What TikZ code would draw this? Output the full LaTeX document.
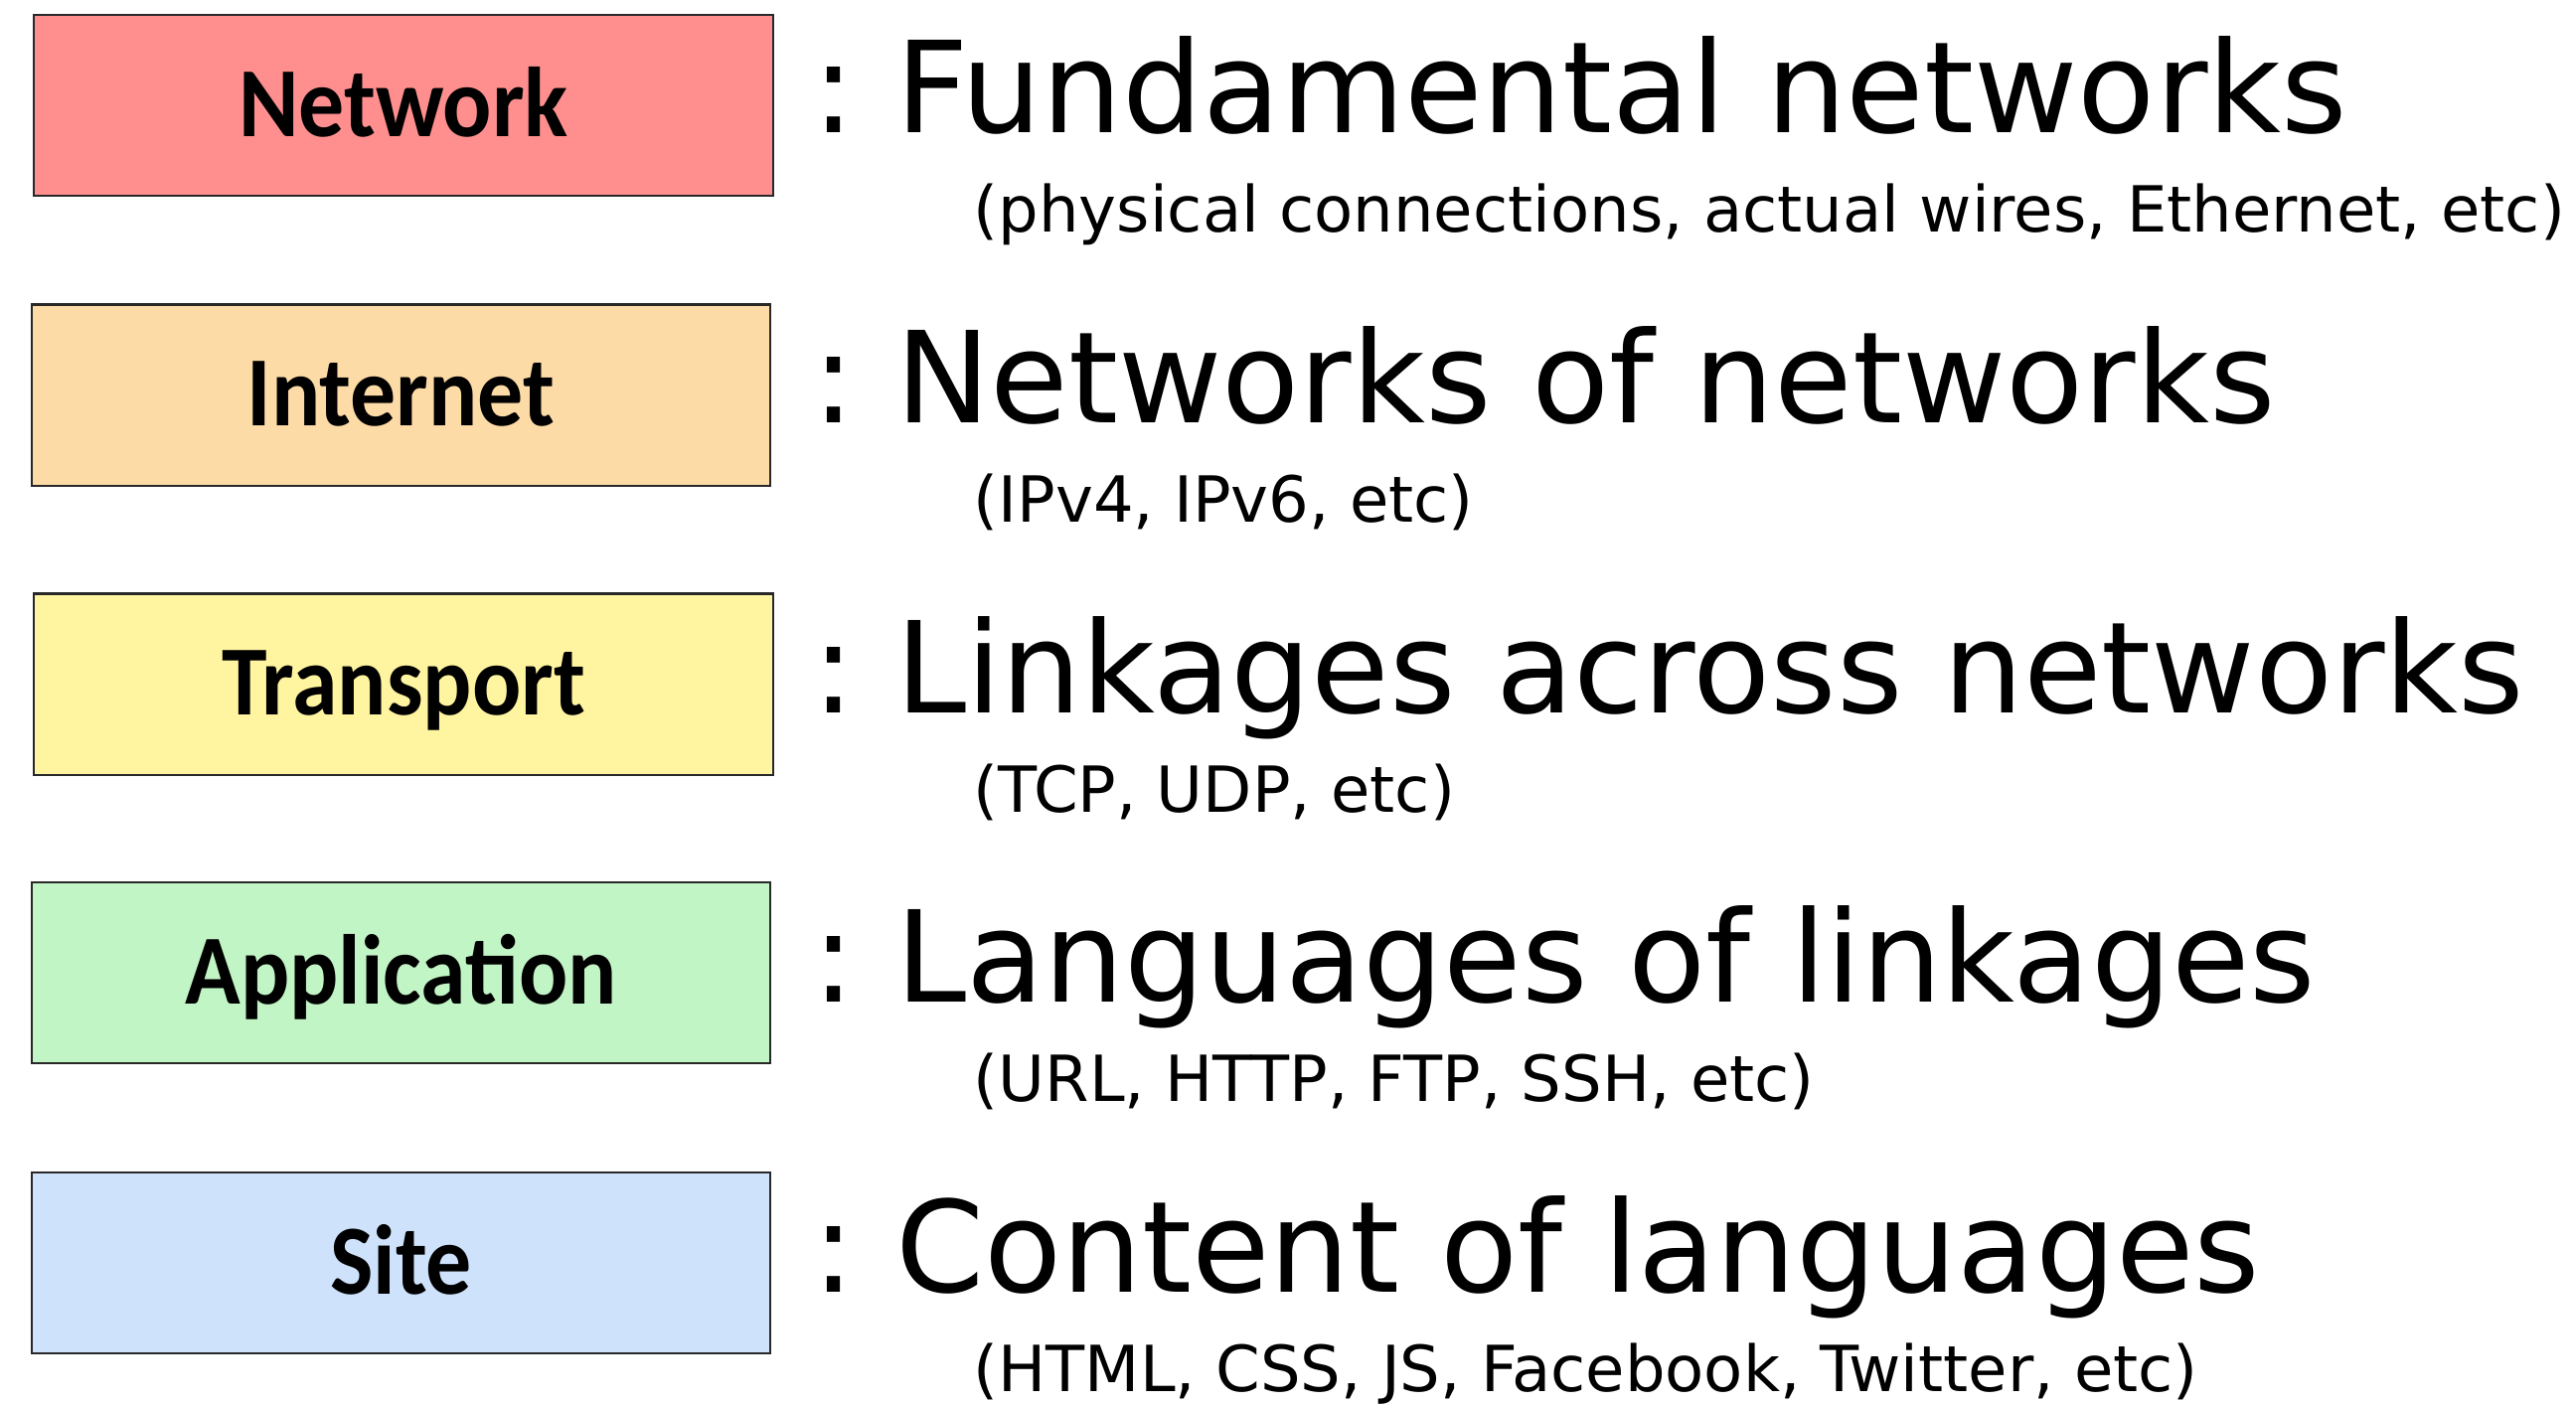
\documentclass[tikz,border=0pt]{standalone}
\usepackage{fontspec}
\setmainfont{DejaVu Sans}
\newfontfamily\boxfont[FakeStretch=0.92]{Carlito}
\frenchspacing
\definecolor{netcol}{RGB}{255,143,143}
\definecolor{inetcol}{RGB}{253,219,166}
\definecolor{transcol}{RGB}{255,245,160}
\definecolor{appcol}{RGB}{194,245,197}
\definecolor{sitecol}{RGB}{207,226,252}
\definecolor{edgecol}{RGB}{40,40,40}
\tikzset{
  layer/.style={draw=edgecol, line width=0.6pt, inner sep=0pt, minimum height=1.82cm,
    font=\boxfont\bfseries\fontsize{28.4}{30}\selectfont, text height=17.9pt, text depth=0pt},
  bigtext/.style={anchor=base west, inner sep=0pt, font=\fontsize{36.3}{40}\selectfont},
  subtext/.style={anchor=base west, inner sep=0pt, font=\fontsize{18.2}{20}\selectfont}
}
\begin{document}
\begin{tikzpicture}[x=0.01cm, y=-0.01cm]
\useasboundingbox (0,0) rectangle (2592,1412);
% layer boxes
\node[layer, fill=netcol, minimum width=7.44cm] (net) at (406,106) {Network};
\node[layer, fill=inetcol, minimum width=7.43cm] (inet) at (403.5,397.5) {Internet};
\node[layer, fill=transcol, minimum width=7.44cm] (trans) at (406,688.5) {Transport};
\node[layer, fill=appcol, minimum width=7.43cm] (app) at (403.5,979) {Application};
\node[layer, fill=sitecol, minimum width=7.43cm] (site) at (403.5,1271) {Site};
% descriptions
\node[bigtext] (netd) at (817,133) {: Fundamental networks};
\node[subtext] (nets) at (979,233) {(physical connections, actual wires, Ethernet, etc)};
\node[bigtext] (inetd) at (817,425) {: Networks of networks};
\node[subtext] (inets) at (979,525) {(IPv4, IPv6, etc)};
\node[bigtext] (transd) at (817,717) {: Linkages across networks};
\node[subtext] (transs) at (979,817) {(TCP, UDP, etc)};
\node[bigtext] (appd) at (817,1008) {: Languages of linkages};
\node[subtext] (apps) at (979,1108) {(URL, HTTP, FTP, SSH, etc)};
\node[bigtext] (sited) at (817,1300) {: Content of languages};
\node[subtext] (sites) at (979,1400) {(HTML, CSS, JS, Facebook, Twitter, etc)};
\end{tikzpicture}
\end{document}
